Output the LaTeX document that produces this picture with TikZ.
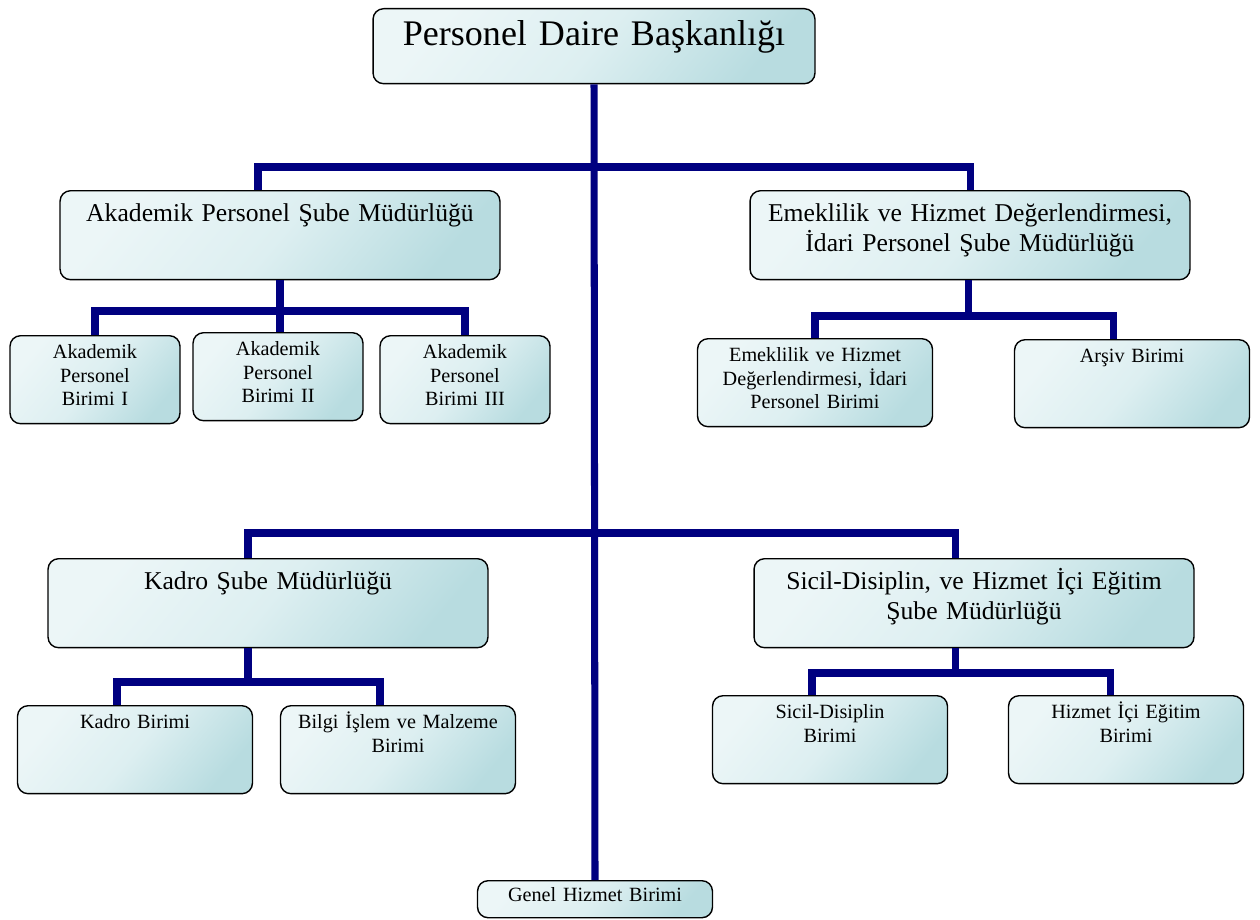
\documentclass[tikz,border=0pt]{standalone}
\usepackage{fontspec}
\setmainfont{Liberation Serif}
\usetikzlibrary{positioning, calc}
\definecolor{linknavy}{RGB}{0,0,128}
\definecolor{boxlight}{RGB}{236,246,247}
\definecolor{boxmid}{RGB}{221,239,241}
\definecolor{boxdark}{RGB}{184,220,224}

\tikzset{
  box/.style={draw=black, line width=0.8pt, rounded corners=6pt, left color=boxlight, right color=boxdark, middle color=boxmid, shading angle=50, inner sep=0pt, align=center, anchor=north},
  headbox/.style={box, text width=8.8cm, font=\fontsize{14.6}{17}\selectfont, text height=0.62cm, text depth=1.16cm},
  unitbox/.style={box, text width=4.7cm, font=\fontsize{11.5}{13.3}\selectfont, text height=0.46cm, text depth=1.3cm},
  link/.style={draw=linknavy, line width=4pt}
}

\begin{document}
\begin{tikzpicture}[x=0.02cm, y=-0.02cm]
  \useasboundingbox (0,0) rectangle (1260,919);

  % main office
  \node[box, text width=8.84cm, font=\fontsize{20.5}{24}\selectfont, text height=0.74cm, text depth=0.76cm] (pdb) at (594,8) {Personel Daire Başkanlığı};

  % branch offices
  \node[headbox] (apsm) at (280,190) {Akademik Personel Şube Müdürlüğü};
  \node[headbox] (emsm) at (970,190) {Emeklilik ve Hizmet Değerlendirmesi,\\İdari Personel Şube Müdürlüğü};
  \node[headbox] (kdsm) at (268,558) {Kadro Şube Müdürlüğü};
  \node[headbox] (sdsm) at (974,558) {Sicil-Disiplin, ve Hizmet İçi Eğitim\\Şube Müdürlüğü};

  % units
  \node[unitbox, text width=3.4cm] (ap1) at (95,335) {Akademik\\Personel\\Birimi I};
  \node[unitbox, text width=3.4cm] (ap2) at (278,332) {Akademik\\Personel\\Birimi II};
  \node[unitbox, text width=3.4cm] (ap3) at (465,335) {Akademik\\Personel\\Birimi III};
  \node[unitbox] (ehb) at (815,338) {Emeklilik ve Hizmet\\Değerlendirmesi, İdari\\Personel Birimi};
  \node[unitbox] (arb) at (1132,339) {Arşiv Birimi};
  \node[unitbox] (kb) at (135,705) {Kadro Birimi};
  \node[unitbox] (bmb) at (398,705) {Bilgi İşlem ve Malzeme\\Birimi};
  \node[unitbox] (sdb) at (830,695) {Sicil-Disiplin\\Birimi};
  \node[unitbox] (hib) at (1126,695) {Hizmet İçi Eğitim\\Birimi};
  \node[unitbox, text height=0.42cm, text depth=0.32cm] (ghb) at (595,880) {Genel Hizmet Birimi};

  % bus coordinates
  \coordinate (bus1) at (594,167);
  \coordinate (bus2) at (594,533);
  \coordinate (apbus) at (280,311);
  \coordinate (embus) at (968,316);
  \coordinate (kdbus) at (248,682);
  \coordinate (sdbus) at (955,673);

  % connectors
  \draw[link] (pdb.south) -- (ghb.north);
  \draw[link] (apsm.north -| 258,0) |- (bus1) -| (emsm.north -| 970,0);
  \draw[link] (kdsm.north -| 248,0) |- (bus2) -| (sdsm.north -| 955,0);

  \draw[link] (apsm.south) -- (apbus);
  \draw[link] (ap1.north) |- (apbus) -| (ap3.north);
  \draw[link] (apbus) -- (apbus |- ap2.north);

  \draw[link] (emsm.south -| embus) -- (embus);
  \draw[link] (ehb.north) |- (embus) -| (arb.north -| 1113,0);

  \draw[link] (kdsm.south -| kdbus) -- (kdbus);
  \draw[link] (kb.north -| 117,0) |- (kdbus) -| (bmb.north -| 380,0);

  \draw[link] (sdsm.south -| sdbus) -- (sdbus);
  \draw[link] (sdb.north -| 812,0) |- (sdbus) -| (hib.north -| 1110,0);
\end{tikzpicture}
\end{document}
